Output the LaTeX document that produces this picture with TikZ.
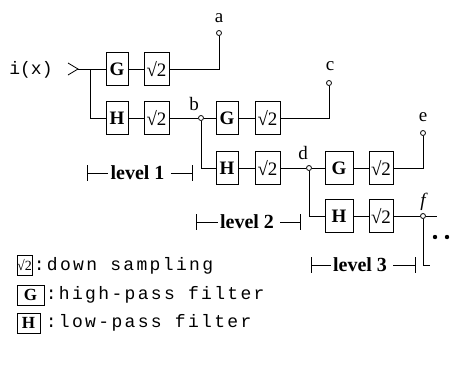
\documentclass[tikz,border=0pt]{standalone}
\usepackage{fontspec}
\setmainfont{Liberation Serif}
\newfontfamily\monofont{Liberation Mono}
\newfontfamily\legendfont[LetterSpace=13]{Liberation Mono}
\usetikzlibrary{positioning}

\begin{document}
\begin{tikzpicture}[x=1pt,y=-1pt,line width=0.8pt,
    filt/.style={draw, inner sep=0pt, minimum width=22pt, minimum height=33pt,
        font=\fontsize{19}{19}\selectfont\bfseries},
    samp/.style={draw, inner sep=0pt, minimum width=25pt, minimum height=33pt,
        font=\fontsize{19}{19}\selectfont},
    tap/.style={circle, draw, inner sep=0pt, minimum size=5pt},
    lbl/.style={inner sep=0pt, font=\fontsize{19}{19}\selectfont},
    lvl/.style={inner sep=2pt, font=\fontsize{20}{20}\selectfont\bfseries},
    key/.style={draw, inner sep=0pt, minimum height=20pt},
    keytext/.style={anchor=west, inner sep=0pt, font=\legendfont\fontsize{18}{18}\selectfont}]

\useasboundingbox (0,0) rectangle (460,378);

% Input
\node[inner sep=0pt, font=\monofont\fontsize{18}{18}\selectfont] (in) at (31,70) {i(x)};
\coordinate (tip) at (78,69);
\coordinate (split) at (90,69);
\draw (68,63) -- (tip) -- (68,75);

% Level 1
\node[filt] (g1) at (117,69) {G};
\node[samp] (s1) at (156.5,69) {√2};
\node[tap] (a) at (219,33) {};
\node[lbl] (alab) at (219,18) {a};
\node[filt] (h1) at (117,118) {H};
\node[samp] (s2) at (156.5,118) {√2};
\node[tap] (b) at (201,118) {};
\node[lbl] (blab) at (194,104) {b};
\draw (tip) -- (g1) -- (s1);
\draw (s1) -| (a);
\draw (split) |- (h1);
\draw (h1) -- (s2) -- (b);

% Level 2
\node[filt] (g2) at (227,118) {G};
\node[samp] (s3) at (267.5,118) {√2};
\node[tap] (c) at (329,83) {};
\node[lbl] (clab) at (330,66) {c};
\node[filt] (h2) at (227,168) {H};
\node[samp] (s4) at (267.5,168) {√2};
\node[tap] (d) at (309,168) {};
\node[lbl] (dlab) at (303,153) {d};
\draw (b) -- (g2) -- (s3);
\draw (s3) -| (c);
\draw (b) |- (h2);
\draw (h2) -- (s4) -- (d);

% Level 3
\node[filt, minimum width=28pt] (g3) at (339,168) {G};
\node[samp, minimum width=24pt] (s5) at (381,168) {√2};
\node[tap] (e) at (423,133) {};
\node[lbl] (elab) at (423,117) {e};
\node[filt, minimum width=28pt] (h3) at (339,216) {H};
\node[samp, minimum width=24pt] (s6) at (381,216) {√2};
\node[tap] (f) at (423,216) {};
\node[lbl] (flab) at (423,202) {\itshape f};
\coordinate (fout) at (437,216);
\coordinate (fdown) at (430,265);
\draw (d) -- (g3) -- (s5);
\draw (s5) -| (e);
\draw (d) |- (h3);
\draw (h3) -- (s6) -- (f) -- (fout);
\draw (f) |- (fdown);
\fill (435,237) circle (2.2);
\fill (447,237) circle (2.2);

% Levels
\foreach \n/\xa/\xt/\xb/\yy in {1/87/137.5/192/173, 2/196/247/300/222, 3/311/360/415/265} {
    \coordinate (l\n a) at (\xa,\yy);
    \coordinate (l\n b) at (\xb,\yy);
    \node[lvl] (lv\n) at (\xt,\yy) {level \n};
    \draw (l\n a) -- (lv\n.west);
    \draw ([xshift=4pt]lv\n.east) -- (l\n b);
    \draw ([yshift=8pt]l\n a) -- ([yshift=-8pt]l\n a);
    \draw ([yshift=8pt]l\n b) -- ([yshift=-8pt]l\n b);
}

% Legend
\node[key, minimum width=15pt, font=\fontsize{14}{14}\selectfont] (ks) at (24.5,265.5) {√2};
\node[keytext] (kst) at ([xshift=1pt]ks.east) {:down sampling};
\node[key, minimum width=27pt, font=\fontsize{17}{17}\selectfont\bfseries] (kg) at (30.5,295) {G};
\node[keytext] (kgt) at ([xshift=1pt]kg.east) {:high-pass filter};
\node[key, minimum width=23pt, font=\fontsize{17}{17}\selectfont\bfseries] (kh) at (28.5,323) {H};
\node[keytext] (kht) at ([xshift=5pt]kh.east) {:low-pass filter};

\end{tikzpicture}
\end{document}
